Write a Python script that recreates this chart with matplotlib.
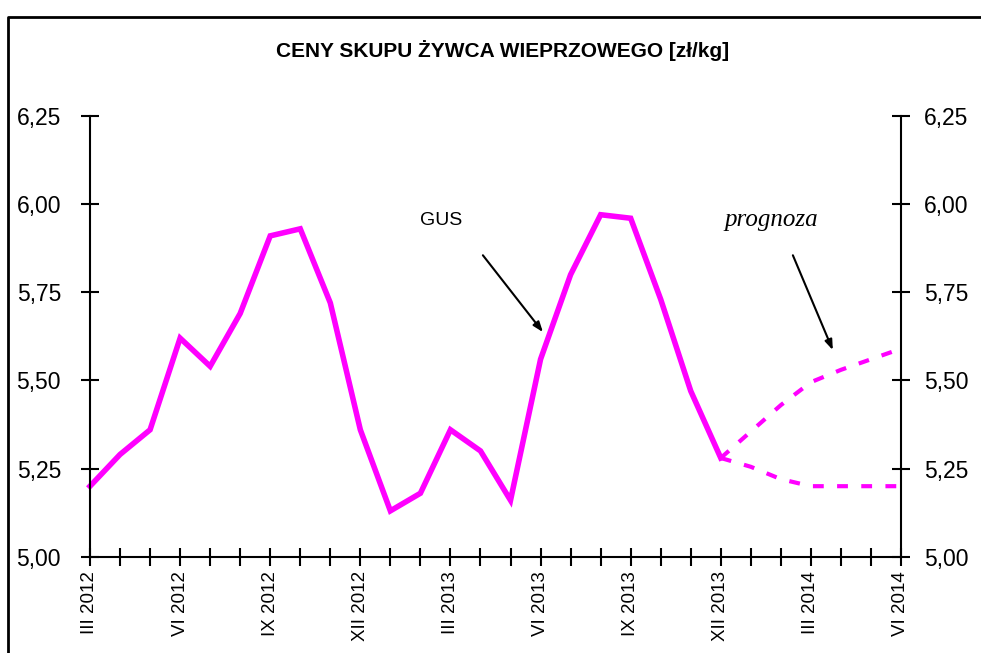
import matplotlib
matplotlib.use('Agg')
import matplotlib.pyplot as plt
from matplotlib.lines import Line2D
from matplotlib.ticker import FixedLocator, NullFormatter
from matplotlib.transforms import ScaledTranslation

# Monthly observations, III 2012 .. XII 2013 (GUS)
gus_prices = [5.20, 5.29, 5.36, 5.62, 5.54, 5.69, 5.91, 5.93, 5.72, 5.36,
              5.13, 5.18, 5.36, 5.30, 5.16, 5.56, 5.80, 5.97, 5.96, 5.73,
              5.47, 5.28]
# Forecast band, XII 2013 .. VI 2014
forecast_high = [5.28, 5.355, 5.43, 5.495, 5.53, 5.56, 5.59]
forecast_low = [5.28, 5.255, 5.22, 5.20, 5.20, 5.20, 5.20]

tick_labels = ['III 2012', 'VI 2012', 'IX 2012', 'XII 2012', 'III 2013',
               'VI 2013', 'IX 2013', 'XII 2013', 'III 2014', 'VI 2014']
y_ticks = [5.00, 5.25, 5.50, 5.75, 6.00, 6.25]

n_months = len(gus_prices) + len(forecast_high) - 1
gus_x = list(range(len(gus_prices)))
fc_x = list(range(len(gus_prices) - 1, n_months))

plt.rcParams['font.family'] = ['Liberation Sans', 'DejaVu Sans']

fig = plt.figure(figsize=(9.81, 6.53), dpi=100)
ax = fig.add_axes([90 / 981, 96.3 / 653, 811 / 981, 440.7 / 653])

magenta = '#FF00FF'
ax.plot(gus_x, gus_prices, color=magenta, lw=4, solid_joinstyle='miter',
        clip_on=False)
ax.plot(fc_x, forecast_high, color=magenta, lw=3, ls=(0, (2.6, 3.2)),
        clip_on=False)
ax.plot(fc_x, forecast_low, color=magenta, lw=3, ls=(0, (2.6, 3.2)),
        clip_on=False)

ax.set_xlim(0, n_months - 1)
ax.set_ylim(5.0, 6.25)

ax.spines['top'].set_visible(False)
for side in ('left', 'right', 'bottom'):
    ax.spines[side].set_linewidth(1.5)

ax.xaxis.set_major_locator(FixedLocator(range(0, n_months, 3)))
ax.xaxis.set_minor_locator(FixedLocator(range(n_months)))
ax.xaxis.set_minor_formatter(NullFormatter())
ax.set_xticklabels(tick_labels, rotation=90, fontsize=13.5)
ax.tick_params(axis='x', which='both', direction='inout', length=13,
               width=1.5, pad=4)

ax.set_yticks(y_ticks)
ax.set_yticklabels([f'{v:.2f}'.replace('.', ',') for v in y_ticks])
ax.tick_params(axis='y', direction='inout', length=13, width=1.5,
               labelsize=16.5, left=True, right=True, labelleft=True,
               labelright=True, pad=10)
# left labels sit a little further from the axis than the right ones
shift = ScaledTranslation(-6 / 100, 0, fig.dpi_scale_trans)
for tick in ax.yaxis.get_major_ticks():
    tick.label1.set_transform(tick.label1.get_transform() + shift)

ax.text(11.68, 5.955, 'GUS', fontsize=14, ha='center', va='center')
ax.text(22.67, 5.955, 'prognoza', fontsize=18, ha='center', va='center',
        family=['Liberation Serif'], style='italic')
arrow = dict(arrowstyle='-|>,head_length=0.6,head_width=0.22', color='black',
             lw=1.5, shrinkA=0, shrinkB=0)
ax.annotate('', xy=(15.08, 5.637), xytext=(13.08, 5.855), arrowprops=arrow)
ax.annotate('', xy=(24.73, 5.586), xytext=(23.40, 5.855), arrowprops=arrow)

fig.text(0.512, 0.923, 'CENY SKUPU ŻYWCA WIEPRZOWEGO [zł/kg]',
         fontsize=15, fontweight='bold', ha='center', va='center')

# outer chart frame (cut by the image edge on the right and bottom)
fig.add_artist(Line2D([8 / 981, 8 / 981, 1.0], [0.0, 1 - 17 / 653, 1 - 17 / 653],
                      color='black', lw=2, transform=fig.transFigure))

fig.savefig('out.png', dpi=100)
